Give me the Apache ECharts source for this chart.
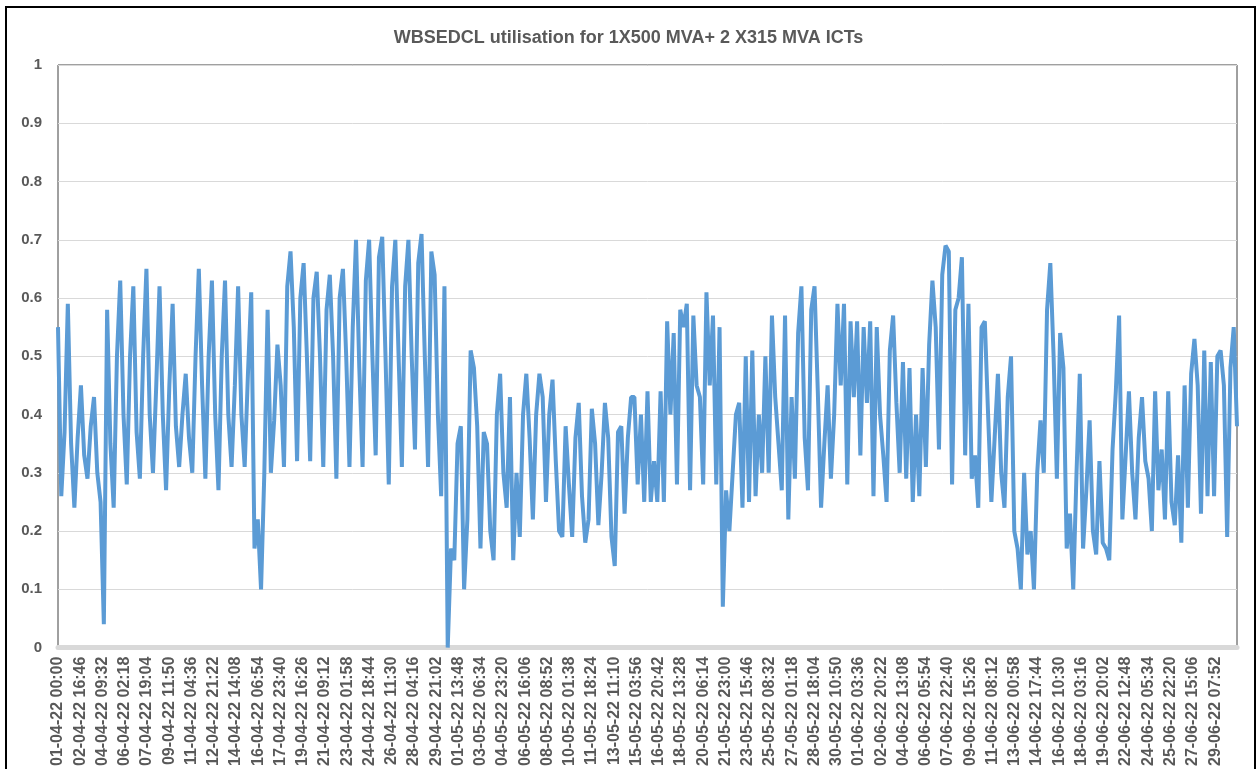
<!DOCTYPE html>
<html>
<head>
<meta charset="utf-8">
<title>WBSEDCL utilisation</title>
<script src="https://cdn.jsdelivr.net/npm/echarts@6/dist/echarts.min.js"></script>
<style>
    html, body { margin: 0; padding: 0; background: #fff; }
    #main { width: 1257px; height: 769px; }
</style>
</head>
<body>
<div id="main"></div>
<script>
// utilisation, 4 readings a day (00, 06, 12, 18 h)
var aprilUtil = [
    0.55, 0.26, 0.37, 0.59,  0.35, 0.24, 0.36, 0.45,  0.33, 0.29, 0.38, 0.43,  0.30, 0.25, 0.04, 0.58,
    0.35, 0.24, 0.50, 0.63,  0.40, 0.28, 0.50, 0.62,  0.37, 0.29, 0.50, 0.65,  0.40, 0.30, 0.45, 0.62,
    0.40, 0.27, 0.45, 0.59,  0.38, 0.31, 0.40, 0.47,  0.36, 0.30, 0.50, 0.65,  0.45, 0.29, 0.50, 0.63,
    0.40, 0.27, 0.50, 0.63,  0.40, 0.31, 0.45, 0.62,  0.40, 0.31, 0.47, 0.61,  0.17, 0.22, 0.10, 0.30,
    0.58, 0.30, 0.39, 0.52,  0.45, 0.31, 0.62, 0.68,  0.55, 0.32, 0.60, 0.66,  0.50, 0.32, 0.60, 0.645,
    0.50, 0.31, 0.58, 0.64,  0.50, 0.29, 0.60, 0.65,  0.50, 0.31, 0.55, 0.70,  0.48, 0.31, 0.63, 0.70,
    0.50, 0.33, 0.67, 0.705, 0.50, 0.28, 0.62, 0.70,  0.50, 0.31, 0.62, 0.70,  0.50, 0.34, 0.66, 0.71,
    0.50, 0.31, 0.68, 0.64,  0.40, 0.26, 0.62, 0.00
];
var mayUtil = [
    0.17, 0.15, 0.35, 0.38,  0.10, 0.22, 0.51, 0.48,  0.38, 0.17, 0.37, 0.35,  0.20, 0.15, 0.40, 0.47,
    0.30, 0.24, 0.43, 0.15,  0.30, 0.19, 0.40, 0.47,  0.36, 0.22, 0.40, 0.47,  0.43, 0.25, 0.40, 0.46,
    0.32, 0.20, 0.19, 0.38,  0.28, 0.19, 0.36, 0.42,  0.26, 0.18, 0.22, 0.41,  0.35, 0.21, 0.30, 0.42,
    0.36, 0.19, 0.14, 0.37,  0.38, 0.23, 0.36, 0.43,  0.43, 0.28, 0.40, 0.25,  0.44, 0.25, 0.32, 0.25,
    0.44, 0.25, 0.56, 0.40,  0.54, 0.28, 0.58, 0.55,  0.59, 0.27, 0.57, 0.45,  0.43, 0.28, 0.61, 0.45,
    0.57, 0.28, 0.55, 0.07,  0.27, 0.20, 0.30, 0.40,  0.42, 0.24, 0.50, 0.25,  0.51, 0.26, 0.40, 0.30,
    0.50, 0.30, 0.57, 0.43,  0.35, 0.27, 0.57, 0.22,  0.43, 0.29, 0.54, 0.62,  0.36, 0.27, 0.58, 0.62,
    0.44, 0.24, 0.35, 0.45,  0.29, 0.40, 0.59, 0.45,  0.59, 0.28, 0.56, 0.43
];
var juneUtil = [
    0.56, 0.33, 0.55, 0.42,  0.56, 0.26, 0.55, 0.40,  0.33, 0.25, 0.51, 0.57,  0.42, 0.30, 0.49, 0.29,
    0.48, 0.25, 0.40, 0.26,  0.48, 0.31, 0.52, 0.63,  0.55, 0.34, 0.64, 0.69,  0.68, 0.28, 0.58, 0.60,
    0.67, 0.33, 0.59, 0.29,  0.33, 0.24, 0.55, 0.56,  0.40, 0.25, 0.36, 0.47,  0.30, 0.24, 0.43, 0.50,
    0.20, 0.17, 0.10, 0.30,  0.16, 0.20, 0.10, 0.30,  0.39, 0.30, 0.58, 0.66,  0.50, 0.29, 0.54, 0.48,
    0.17, 0.23, 0.10, 0.30,  0.47, 0.17, 0.27, 0.39,  0.20, 0.16, 0.32, 0.18,  0.17, 0.15, 0.34, 0.44,
    0.57, 0.22, 0.33, 0.44,  0.30, 0.22, 0.36, 0.43,  0.32, 0.29, 0.20, 0.44,  0.27, 0.34, 0.22, 0.44,
    0.25, 0.21, 0.33, 0.18,  0.45, 0.24, 0.47, 0.53,  0.45, 0.23, 0.51, 0.26,  0.49, 0.26, 0.50, 0.51,
    0.45, 0.19, 0.48, 0.55,  0.38
];

// tick labels as printed under the axis (one every 40 h 46 min)
var xLabels = [
    '01-04-22 00:00', '02-04-22 16:46', '04-04-22 09:32', '06-04-22 02:18', '07-04-22 19:04',
    '09-04-22 11:50', '11-04-22 04:36', '12-04-22 21:22', '14-04-22 14:08', '16-04-22 06:54',
    '17-04-22 23:40', '19-04-22 16:26', '21-04-22 09:12', '23-04-22 01:58', '24-04-22 18:44',
    '26-04-22 11:30', '28-04-22 04:16', '29-04-22 21:02', '01-05-22 13:48', '03-05-22 06:34',
    '04-05-22 23:20', '06-05-22 16:06', '08-05-22 08:52', '10-05-22 01:38', '11-05-22 18:24',
    '13-05-22 11:10', '15-05-22 03:56', '16-05-22 20:42', '18-05-22 13:28', '20-05-22 06:14',
    '21-05-22 23:00', '23-05-22 15:46', '25-05-22 08:32', '27-05-22 01:18', '28-05-22 18:04',
    '30-05-22 10:50', '01-06-22 03:36', '02-06-22 20:22', '04-06-22 13:08', '06-06-22 05:54',
    '07-06-22 22:40', '09-06-22 15:26', '11-06-22 08:12', '13-06-22 00:58', '14-06-22 17:44',
    '16-06-22 10:30', '18-06-22 03:16', '19-06-22 20:02', '22-06-22 12:48', '24-06-22 05:34',
    '25-06-22 22:20', '27-06-22 15:06', '29-06-22 07:52'
];

var stepMin = 360;        // minutes between readings
var labelStepMin = 2446;  // minutes between axis labels

var util = aprilUtil.concat(mayUtil, juneUtil);
var seriesData = util.map(function (v, i) { return [i * stepMin, v]; });

var myChart = echarts.init(document.getElementById('main'));

var option = {
    backgroundColor: '#fff',
    animation: false,
    title: {
        text: 'WBSEDCL utilisation for 1X500 MVA+ 2 X315 MVA ICTs',
        left: 'center',
        top: 24,
        textStyle: {
            fontFamily: 'Liberation Sans',
            fontSize: 18,
            fontWeight: 'bold',
            color: '#595959'
        }
    },
    graphic: [{
        type: 'rect',
        shape: { x: 6, y: 7, width: 1249, height: 800 },
        style: { fill: 'none', stroke: '#000', lineWidth: 2 },
        silent: true
    }],
    grid: {
        left: 58,
        right: 20,
        top: 65,
        bottom: 121,
        show: true,
        borderColor: '#404040',
        borderWidth: 1
    },
    xAxis: {
        type: 'value',
        min: 0,
        max: (util.length - 1) * stepMin,
        interval: labelStepMin,
        splitLine: { show: false },
        axisTick: { show: false },
        axisLine: {
            lineStyle: { color: '#d9d9d9', width: 5 }
        },
        axisLabel: {
            rotate: 90,
            margin: 9,
            showMaxLabel: false,
            fontFamily: 'Liberation Sans',
            fontSize: 16,
            fontWeight: 'bold',
            color: '#595959',
            formatter: function (v) {
                var i = Math.round(v / labelStepMin);
                if (Math.abs(v - i * labelStepMin) > 1) return '';
                return xLabels[i] || '';
            }
        }
    },
    yAxis: {
        type: 'value',
        min: 0,
        max: 1,
        interval: 0.1,
        axisLine: { show: false },
        axisTick: { show: false },
        splitLine: {
            lineStyle: { color: '#d9d9d9', width: 1 }
        },
        axisLabel: {
            margin: 16,
            fontFamily: 'Liberation Sans',
            fontSize: 15,
            fontWeight: 'bold',
            color: '#595959'
        }
    },
    series: [{
        name: 'utilisation',
        type: 'line',
        data: seriesData,
        showSymbol: false,
        symbol: 'none',
        lineStyle: {
            color: '#5b9bd5',
            width: 4
        }
    }]
};
myChart.setOption(option);
</script>
</body>
</html>
